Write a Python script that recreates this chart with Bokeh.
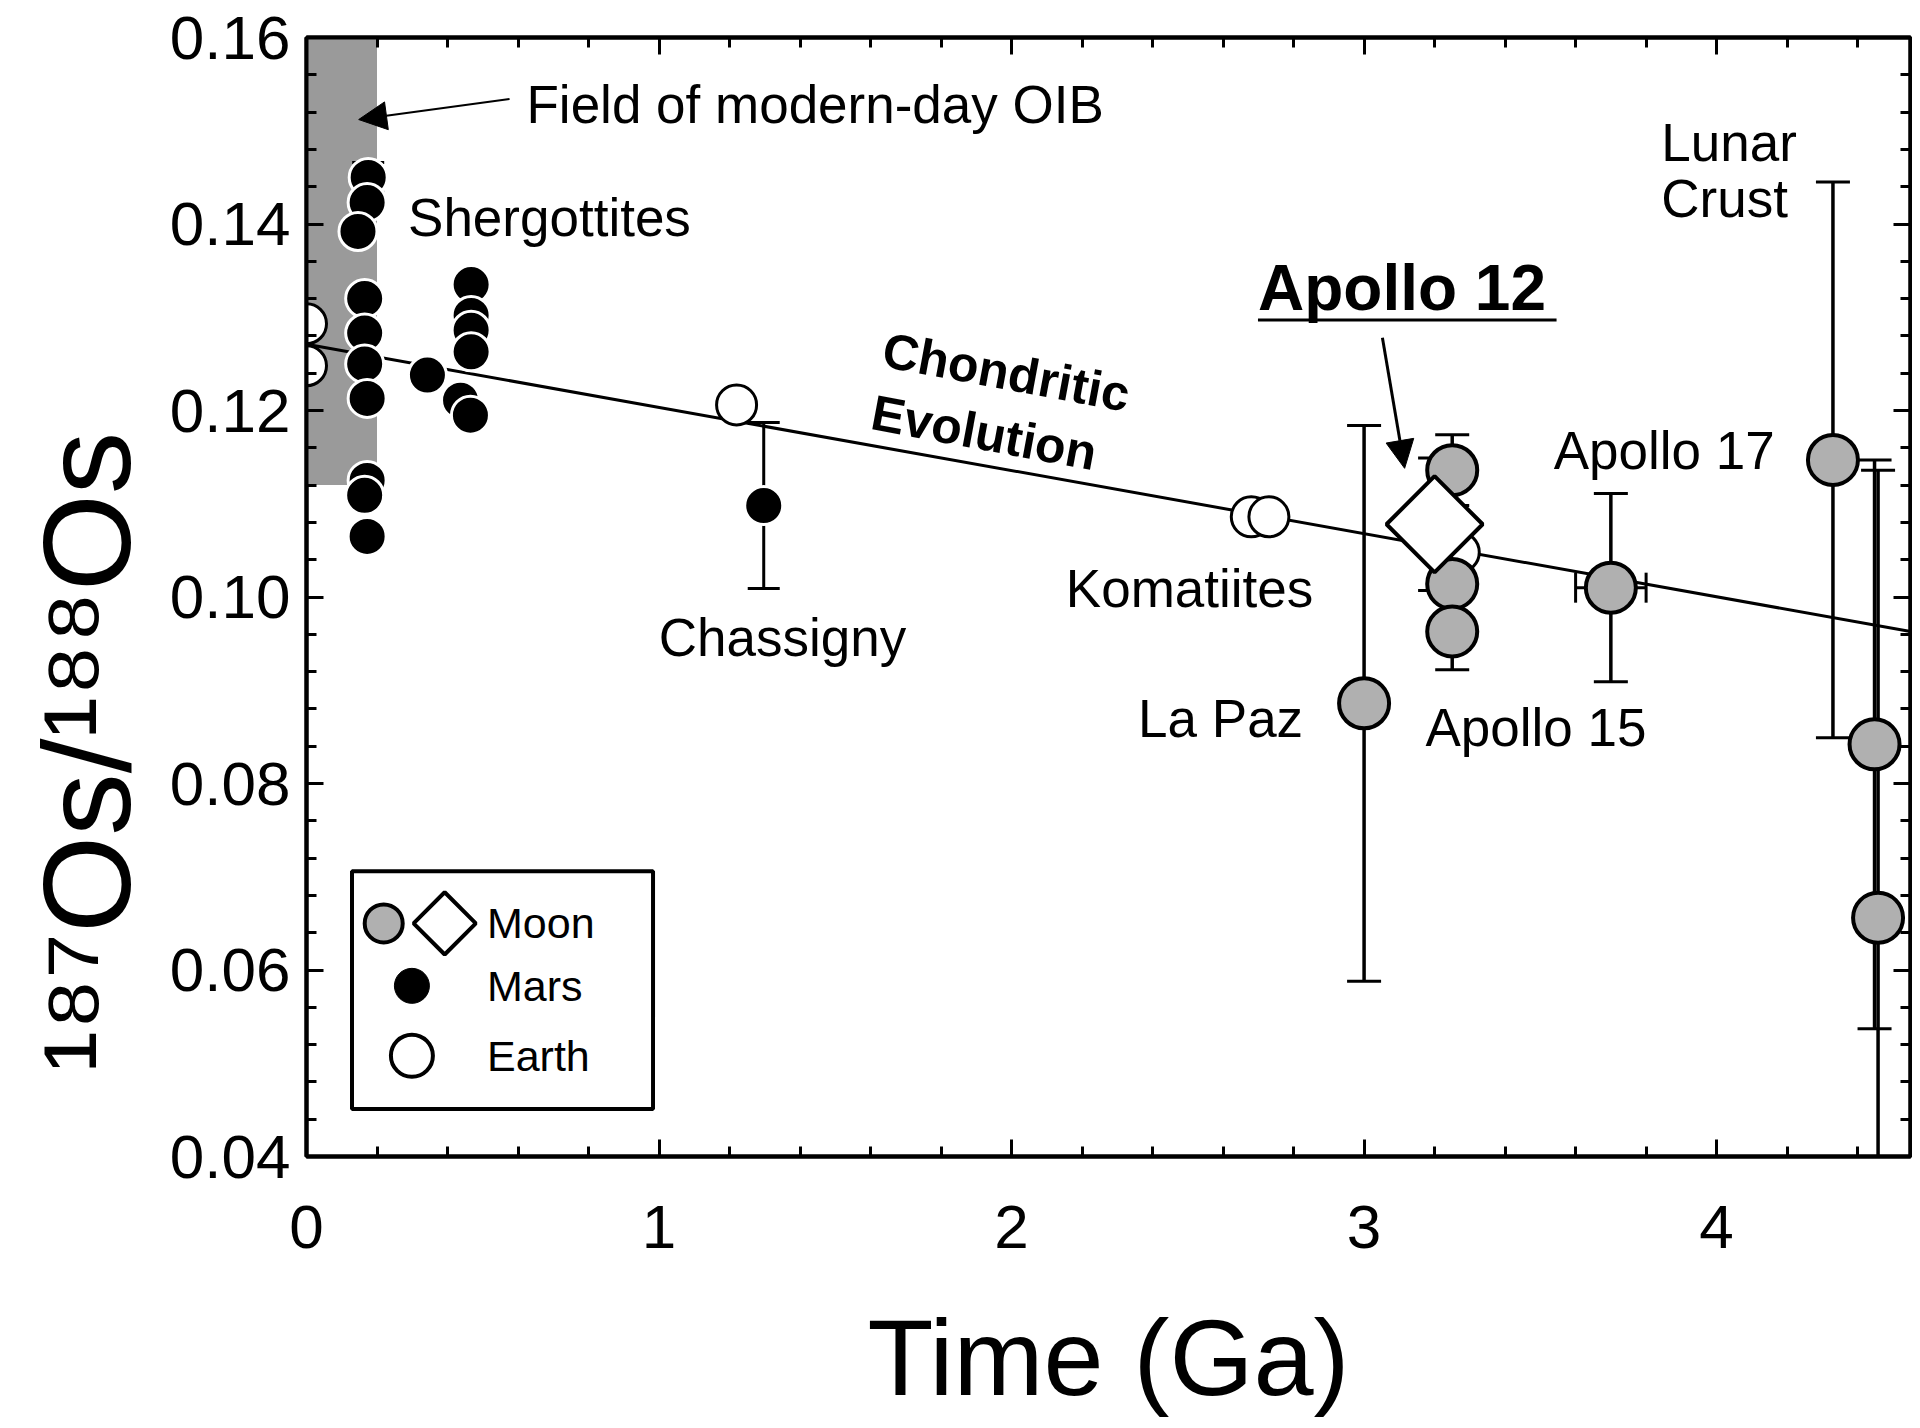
from bokeh.plotting import figure
from bokeh.models import (LinearAxis, SingleIntervalTicker, Label, Arrow, NormalHead, Title,
                          CustomJSTickFormatter, PrintfTickFormatter, Range1d)
from bokeh.embed import file_html
from bokeh.resources import INLINE
import numpy as np

FONT = "Liberation Sans"

# ---------------- data ----------------
# Chondritic evolution line (Time Ga, 187Os/188Os)
chondrite_t = [0.0, 4.55]
chondrite_os = [0.1271, 0.0963]

# Field of modern-day OIB
oib_t = [0.0, 0.2]
oib_os = [0.112, 0.16]

# Mars (black)
mars_t = [0.175, 0.172, 0.146, 0.165, 0.165, 0.165, 0.172, 0.172, 0.165, 0.172,
          0.343, 0.467, 0.467, 0.467, 0.467, 0.437, 0.465, 1.297]
mars_os = [0.1450, 0.1423, 0.1392, 0.1320, 0.1283, 0.1250, 0.1213, 0.1125, 0.1109, 0.1065,
           0.1238, 0.1335, 0.1302, 0.1286, 0.1263, 0.1211, 0.1195, 0.1098]
mars_err = [0.0016, 0, 0, 0, 0, 0, 0, 0, 0, 0,
            0, 0, 0, 0, 0, 0, 0, 0.0089]

# Earth (white)
earth_t = [0.0, 0.0, 1.22, 2.68, 2.73, 3.27]
earth_os = [0.1293, 0.1248, 0.1206, 0.1086, 0.1086, 0.1048]

# Moon (grey circles)
moon_t = [3.00, 3.25, 3.25, 3.25, 3.70, 4.33, 4.448, 4.458]
moon_os = [0.0886, 0.1136, 0.1014, 0.0963, 0.1010, 0.1147, 0.0842, 0.0656]
moon_err = [0.0298, 0.0038, 0.0012, 0.0041, 0.0101, 0.0298, 0.0305, 0.0480]
moon_xerr = [0, 0, 0, 0, 0.10, 0, 0, 0]

# Apollo 12 (diamond)
a12_t = [3.20]
a12_os = [0.1078]
a12_err = [0.0071]

# legend entries
legend_names = ["Moon", "Mars", "Earth"]

# ---------------- figure ----------------
p = figure(width=1912, height=1420, x_range=Range1d(0, 4.55), y_range=Range1d(0.04, 0.16),
           output_backend="svg", toolbar_location=None,
           min_border_left=306, min_border_right=2, min_border_top=37, min_border_bottom=257)
p.grid.visible = False
p.outline_line_color = "black"
p.outline_line_width = 4
p.background_fill_color = "white"
p.border_fill_color = "white"


def style_axis(ax, interval, labels=True, fmt=None):
    ax.ticker = SingleIntervalTicker(interval=interval, num_minor_ticks=5)
    ax.axis_line_width = 4
    ax.axis_line_color = "black"
    ax.major_tick_in = 17
    ax.major_tick_out = 0
    ax.minor_tick_in = 10
    ax.minor_tick_out = 0
    ax.major_tick_line_width = 3
    ax.minor_tick_line_width = 3
    ax.major_label_text_font = FONT
    ax.major_label_text_color = "black"
    if labels:
        ax.major_label_text_font_size = "62px"
        if fmt is not None:
            ax.formatter = fmt
    else:
        ax.formatter = CustomJSTickFormatter(code="return ''")
        ax.major_label_text_font_size = "1px"
        ax.major_label_standoff = 0


xa = p.xaxis[0]
style_axis(xa, 1.0, fmt=PrintfTickFormatter(format="%d"))
xa.major_label_standoff = 49
xa.axis_label = "Time (Ga)"
xa.axis_label_text_font = FONT
xa.axis_label_text_font_size = "108px"
xa.axis_label_text_font_style = "normal"
xa.axis_label_text_color = "black"
xa.axis_label_standoff = 46

ya = p.yaxis[0]
style_axis(ya, 0.02, fmt=PrintfTickFormatter(format="%.2f"))
ya.major_label_standoff = 16

top = LinearAxis()
style_axis(top, 1.0, labels=False)
p.add_layout(top, "above")
right = LinearAxis()
style_axis(right, 0.02, labels=False)
p.add_layout(right, "right")

# y axis title with superscripts, placed low like the original
ytitle = Title(text="¹⁸⁷Os/¹⁸⁸Os", text_font=FONT, text_font_size="125px",
               text_font_style="normal", text_color="black", align="left",
               offset=84, standoff=22)
p.add_layout(ytitle, "left")

# OIB field
p.quad(left=[oib_t[0]], right=[oib_t[1]], bottom=[oib_os[0]], top=[oib_os[1]],
       fill_color="#9a9a9a", line_color=None)

# chondritic line
p.line(chondrite_t, chondrite_os, line_color="black", line_width=3)

# ---- error bars ----
mt = np.array(mars_t); mo = np.array(mars_os); me = np.array(mars_err)
sel = me > 0
p.segment(mt[sel], mo[sel] - me[sel], mt[sel], mo[sel] + me[sel], line_color="black", line_width=3)
p.scatter(np.r_[mt[sel], mt[sel]], np.r_[mo[sel] - me[sel], mo[sel] + me[sel]],
          marker="dash", size=32, line_color="black", line_width=3)

nt = np.array(moon_t); no = np.array(moon_os); ne = np.array(moon_err); nx = np.array(moon_xerr)
p.segment(nt, no - ne, nt, no + ne, line_color="black", line_width=3.5)
p.scatter(np.r_[nt, nt], np.r_[no - ne, no + ne], marker="dash", size=34,
          line_color="black", line_width=3)
sx = nx > 0
p.segment(nt[sx] - nx[sx], no[sx], nt[sx] + nx[sx], no[sx], line_color="black", line_width=3)
p.scatter(np.r_[nt[sx] - nx[sx], nt[sx] + nx[sx]], np.r_[no[sx], no[sx]], marker="dash",
          angle=np.pi / 2, size=30, line_color="black", line_width=3)

at = np.array(a12_t); ao = np.array(a12_os); ae = np.array(a12_err)
p.segment(at, ao - ae, at, ao + ae, line_color="black", line_width=3)
p.scatter(np.r_[at, at], np.r_[ao - ae, ao + ae], marker="dash", size=33,
          line_color="black", line_width=3)

# ---- points ----
p.scatter(mars_t, mars_os, marker="circle", size=38, fill_color="black",
          line_color="white", line_width=3)
p.scatter(earth_t, earth_os, marker="circle", size=40, fill_color="white",
          line_color="black", line_width=3)
p.scatter(moon_t, moon_os, marker="circle", size=50, fill_color="#b0b0b0",
          line_color="black", line_width=4)
p.scatter(a12_t, a12_os, marker="square", angle=np.pi / 4, size=68, fill_color="white",
          line_color="black", line_width=4)


# ---- text annotations ----
def add_text(txt, x, y, size=53, style="normal", align="left", angle=0.0, baseline="middle"):
    p.add_layout(Label(x=x, y=y, text=txt, text_font=FONT, text_font_size=f"{size}px",
                       text_font_style=style, text_align=align, text_baseline=baseline,
                       angle=angle, text_color="black"))


add_text("Field of modern-day OIB", 0.624, 0.1528)
add_text("Shergottites", 0.288, 0.1407)
add_text("Chassigny", 0.999, 0.0957)
add_text("Komatiites", 2.154, 0.1009)
add_text("La Paz", 2.359, 0.0870)
add_text("Apollo 15", 3.174, 0.0860)
add_text("Apollo 17", 3.538, 0.1157)
add_text("Lunar", 3.843, 0.1487)
add_text("Crust", 3.843, 0.1427)
add_text("Apollo 12", 2.699, 0.1331, size=64, style="bold")
add_text("Chondritic", 1.985, 0.1241, size=50, style="bold", align="center",
         angle=-np.deg2rad(10.5))
add_text("Evolution", 1.922, 0.1176, size=50, style="bold", align="center",
         angle=-np.deg2rad(10.5))

# underline of Apollo 12
p.segment([2.699], [0.1297], [3.546], [0.1297], line_color="black", line_width=3)

# arrows
p.add_layout(Arrow(end=NormalHead(size=28, fill_color="black", line_color="black"),
                   x_start=0.576, y_start=0.1534, x_end=0.148, y_end=0.1512,
                   line_color="black", line_width=2))
p.add_layout(Arrow(end=NormalHead(size=28, fill_color="black", line_color="black"),
                   x_start=3.052, y_start=0.1278, x_end=3.115, y_end=0.1138,
                   line_color="black", line_width=3))

# ---- legend (drawn by hand: Moon row has circle + diamond) ----
p.quad(left=[0.129], right=[0.983], bottom=[0.0451], top=[0.0706],
       fill_color="white", line_color="black", line_width=4)
p.scatter([0.219], [0.0650], marker="circle", size=38, fill_color="#b0b0b0",
          line_color="black", line_width=4)
p.scatter([0.392], [0.0650], marker="square", angle=np.pi / 4, size=44, fill_color="white",
          line_color="black", line_width=4)
p.scatter([0.299], [0.0583], marker="circle", size=35, fill_color="black",
          line_color="black", line_width=1)
p.scatter([0.299], [0.0508], marker="circle", size=42, fill_color="white",
          line_color="black", line_width=4)
for name, ly in zip(legend_names, [0.0650, 0.0583, 0.0508]):
    add_text(name, 0.512, ly, size=43)

open("out.html", "w").write(file_html(p, INLINE))
